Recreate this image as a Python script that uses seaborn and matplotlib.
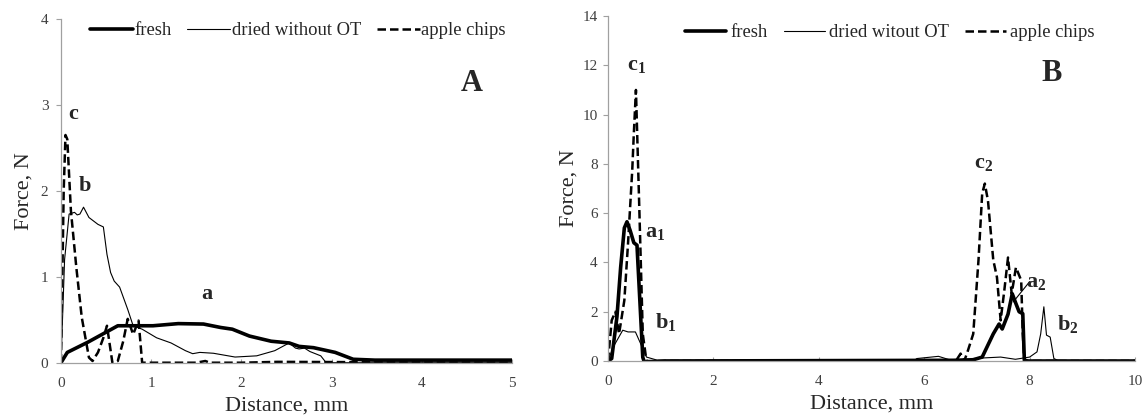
import numpy as np
import pandas as pd
import matplotlib
matplotlib.use("Agg")
import matplotlib.pyplot as plt
import seaborn as sns

# ---------------- Panel A data ----------------
a_fresh_x = [0, 0.07, 0.3, 0.63, 1.02, 1.3, 1.58, 1.77, 1.9, 2.09, 2.33, 2.53, 2.64, 2.8, 3.04, 3.24, 3.48, 4.0, 4.5, 5.0]
a_fresh_y = [0, 0.12, 0.24, 0.43, 0.43, 0.455, 0.45, 0.41, 0.39, 0.31, 0.25, 0.23, 0.19, 0.175, 0.12, 0.04, 0.03, 0.03, 0.03, 0.03]

a_dried_x = [0, 0.04, 0.09, 0.15, 0.18, 0.21, 0.25, 0.31, 0.41, 0.47, 0.51, 0.55, 0.59, 0.65, 0.74, 0.8, 0.9, 1.06, 1.22, 1.38, 1.46, 1.54, 1.69, 1.93, 2.17, 2.37, 2.53, 2.6, 2.64, 2.7, 2.76, 2.88, 2.94, 3.5, 5.0]
a_dried_y = [0, 1.2, 1.73, 1.75, 1.72, 1.73, 1.81, 1.69, 1.61, 1.58, 1.26, 1.05, 0.95, 0.88, 0.62, 0.43, 0.39, 0.29, 0.23, 0.14, 0.105, 0.12, 0.11, 0.066, 0.08, 0.14, 0.23, 0.17, 0.16, 0.17, 0.13, 0.08, 0.0, 0.0, 0.0]

a_chips_x = [0, 0.03, 0.05, 0.07, 0.11, 0.17, 0.23, 0.31, 0.35, 0.41, 0.47, 0.51, 0.57, 0.63, 0.69, 0.74, 0.8, 0.86, 0.9, 1.0, 1.5, 1.6, 1.65, 1.7, 2.0, 2.4, 5.0]
a_chips_y = [0, 2.0, 2.65, 2.6, 1.77, 1.11, 0.53, 0.06, 0.02, 0.12, 0.29, 0.43, 0.0, 0.02, 0.25, 0.51, 0.33, 0.49, 0.0, 0.0, 0.0, 0.02, 0.0, 0.0, 0.0, 0.01, 0.0]

# ---------------- Panel B data ----------------
b_fresh_x = [0, 0.07, 0.17, 0.24, 0.31, 0.36, 0.42, 0.49, 0.55, 0.62, 0.66, 0.69, 1.07, 6.9, 7.1, 7.31, 7.42, 7.48, 7.59, 7.67, 7.74, 7.8, 7.87, 7.9, 7.97, 10.0]
b_fresh_y = [0, 0.1, 1.8, 3.8, 5.4, 5.65, 5.3, 4.8, 4.7, 1.8, 0.15, -0.05, 0.0, 0.03, 0.16, 1.1, 1.5, 1.3, 1.9, 2.73, 2.33, 2.0, 1.92, 0.03, 0.0, 0.0]

b_dried_x = [0, 0.1, 0.28, 0.38, 0.52, 0.62, 0.73, 0.94, 5.8, 5.86, 6.27, 6.48, 6.9, 7.45, 7.73, 8.0, 8.14, 8.21, 8.27, 8.32, 8.39, 8.46, 8.56, 10.0]
b_dried_y = [0, 0.57, 1.25, 1.18, 1.18, 0.7, 0.16, 0.03, 0.0, 0.1, 0.19, 0.05, 0.1, 0.16, 0.07, 0.16, 0.37, 1.1, 2.2, 1.05, 0.97, 0.1, 0.0, 0.0]

b_chips_x = [0, 0.07, 0.14, 0.21, 0.31, 0.38, 0.46, 0.49, 0.53, 0.59, 0.66, 0.73, 6.6, 6.69, 6.76, 6.83, 6.93, 7.03, 7.1, 7.15, 7.21, 7.31, 7.38, 7.45, 7.52, 7.59, 7.66, 7.74, 7.84, 7.87, 7.9, 10.0]
b_chips_y = [0, 1.65, 2.0, 1.1, 2.46, 4.77, 7.74, 9.23, 11.0, 6.5, 1.1, 0.0, 0.0, 0.3, 0.0, 0.43, 1.1, 4.1, 6.8, 7.2, 6.5, 4.1, 3.4, 1.65, 2.87, 4.2, 2.73, 3.8, 3.27, 1.1, 0.0, 0.0]

a_labels = ["fresh", "dried without OT", "apple chips"]
b_labels = ["fresh", "dried witout OT", "apple chips"]
a_xticks = [0, 1, 2, 3, 4, 5]
a_yticks = [0, 1, 2, 3, 4]
b_xticks = [0, 2, 4, 6, 8, 10]
b_yticks = [0, 2, 4, 6, 8, 10, 12, 14]

sns.set_style("ticks")
plt.rcParams['font.family'] = ['Liberation Serif', 'DejaVu Serif']
plt.rcParams['mathtext.fontset'] = 'custom'
plt.rcParams['mathtext.rm'] = 'Liberation Serif'
plt.rcParams['mathtext.bf'] = 'Liberation Serif:bold'

fig = plt.figure(figsize=(11.42, 4.15), dpi=100)
axA = fig.add_axes([0.0534, 0.1260, 0.3949, 0.8282])
axB = fig.add_axes([0.5324, 0.1301, 0.4615, 0.8313])

styles = [dict(color="black", lw=2.6, ls="-"),
          dict(color="black", lw=0.8, ls="-"),
          dict(color="black", lw=1.8, ls=(0, (3.4, 1.6)))]


def draw(ax, series, labels):
    for (x, y), lab, st in zip(series, labels, styles):
        df = pd.DataFrame({"x": x, "y": y})
        sns.lineplot(data=df, x="x", y="y", ax=ax, label=lab, estimator=None,
                     sort=False, color=st["color"], linewidth=st["lw"], linestyle=st["ls"])


draw(axA, [(a_fresh_x, a_fresh_y), (a_dried_x, a_dried_y), (a_chips_x, a_chips_y)], a_labels)
draw(axB, [(b_fresh_x, b_fresh_y), (b_dried_x, b_dried_y), (b_chips_x, b_chips_y)], b_labels)

for ax, xt, yt, xmax, ymax, ypad, ylp in [(axA, a_xticks, a_yticks, 5, 4, 5.5, 5),
                                          (axB, b_xticks, b_yticks, 10, 14, 4.0, 3)]:
    ax.set_xlim(0, xmax)
    ax.set_ylim(0, ymax)
    ax.set_xticks(xt)
    ax.set_yticks(yt)
    ax.set_xlabel("Distance, mm", fontsize=16, labelpad=5)
    ax.set_ylabel("Force, N", fontsize=16, labelpad=ylp)
    for s in ["top", "right"]:
        ax.spines[s].set_visible(False)
    for s in ["left", "bottom"]:
        ax.spines[s].set_color("#a0a0a0")
        ax.spines[s].set_linewidth(0.9)
    ax.tick_params(axis="y", labelsize=11, colors="#a0a0a0", labelcolor="#404040",
                   length=3.5, width=0.8, pad=ypad)
    ax.tick_params(axis="x", labelsize=11, colors="#a0a0a0", labelcolor="#404040",
                   length=3, width=0.8, direction="in", pad=10)
    ax.set_facecolor("white")

legA = axA.legend(loc="center", bbox_to_anchor=(0.525, 0.966), ncol=3, frameon=False,
                  fontsize=13.4, handlelength=2.3, columnspacing=0.85, handletextpad=0.08)
legB = axB.legend(loc="center", bbox_to_anchor=(0.535, 0.951), ncol=3, frameon=False,
                  fontsize=13.4, handlelength=2.2, columnspacing=0.9, handletextpad=0.2)

# annotations panel A
axA.text(4.55, 3.25, "A", fontsize=22, fontweight="bold", ha="center", va="center")
axA.text(0.13, 2.9, "c", fontsize=16, fontweight="bold", ha="center", va="center")
axA.text(0.26, 2.06, "b", fontsize=16, fontweight="bold", ha="center", va="center")
axA.text(1.62, 0.8, "a", fontsize=16, fontweight="bold", ha="center", va="center")

# annotations panel B
axB.text(8.42, 11.67, "B", fontsize=22, fontweight="bold", ha="center", va="center")
axB.text(0.55, 12.0, r"$\mathbf{c_1}$", fontsize=16, ha="center", va="center")
axB.text(0.9, 5.2, r"$\mathbf{a_1}$", fontsize=16, ha="center", va="center")
axB.text(1.1, 1.6, r"$\mathbf{b_1}$", fontsize=16, ha="center", va="center")
axB.text(7.12, 8.0, r"$\mathbf{c_2}$", fontsize=16, ha="center", va="center")
axB.text(8.12, 3.2, r"$\mathbf{a_2}$", fontsize=16, ha="center", va="center")
axB.text(8.72, 1.5, r"$\mathbf{b_2}$", fontsize=16, ha="center", va="center")
axB.plot([8.0, 7.69], [3.22, 2.4], color="black", lw=0.8)

fig.savefig("out.png", dpi=100, facecolor="white")
